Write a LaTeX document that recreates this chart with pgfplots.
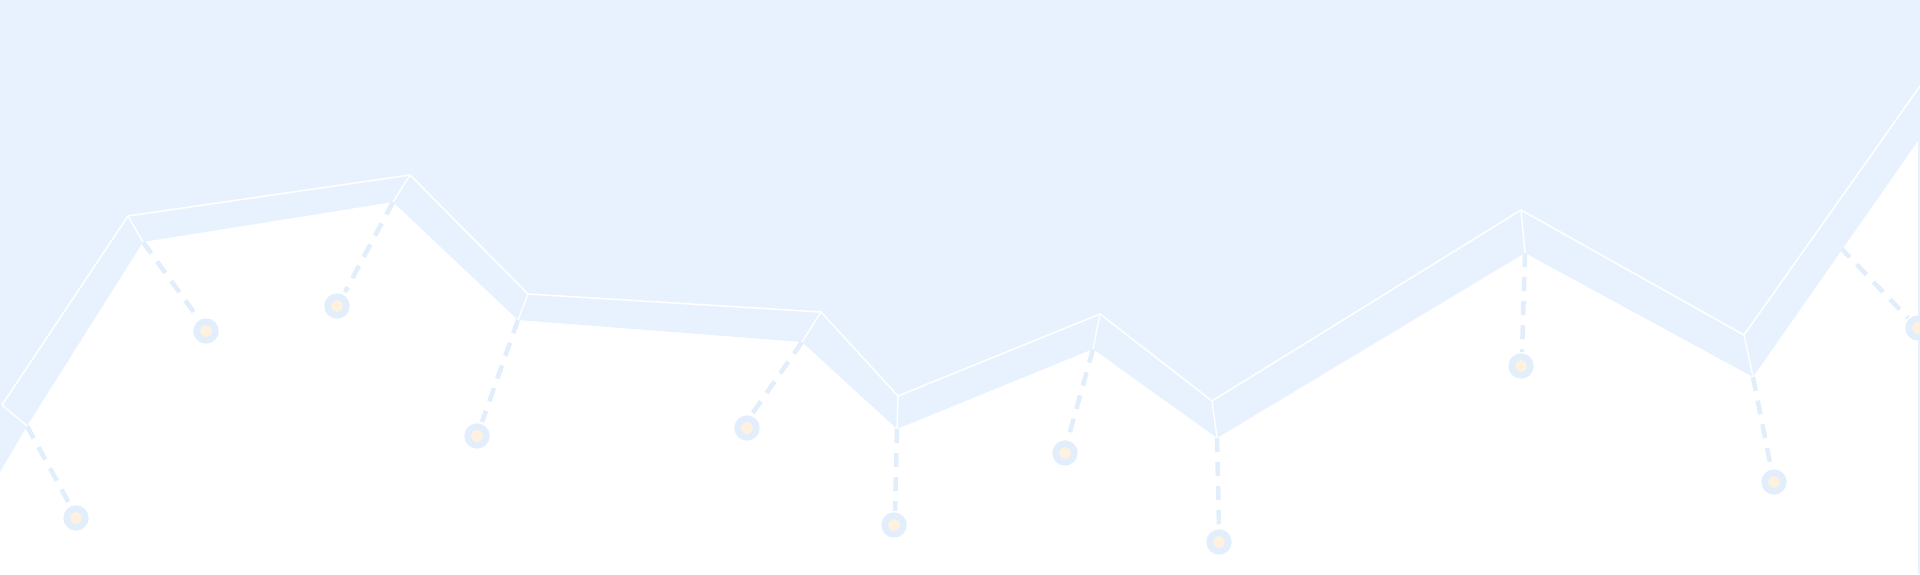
\documentclass[border=0pt]{standalone}
\usepackage{pgfplots}
\pgfplotsset{compat=1.18}
\definecolor{areablue}{HTML}{E8F2FE}
\definecolor{ringblue}{HTML}{E3EEFC}
\definecolor{dotorange}{HTML}{FFF1E0}
\begin{document}
\begin{tikzpicture}
\begin{axis}[
	width=19.2cm, height=5.74cm,
	scale only axis,
	hide axis,
	xmin=0, xmax=1920,
	ymin=0, ymax=574,
	y dir=reverse,
	clip=false,
	unbounded coords=jump,
]
% dashed drop lines (under the area)
\addplot[ringblue, line width=1.3pt, dash pattern=on 4pt off 2.85pt] coordinates {
	(27,426) (70,505) (nan,nan)
	(143,242) (198,318) (nan,nan)
	(393,202) (345,292) (nan,nan)
	(518,320) (482,422) (nan,nan)
	(802,342) (752,414) (nan,nan)
	(897,429) (895,511) (nan,nan)
	(1093,349) (1068,439) (nan,nan)
	(1217,438) (1219,528) (nan,nan)
	(1525,253) (1522,352) (nan,nan)
	(1753,377) (1771,468) (nan,nan)
	(1790,195) (1908,318)
};
% area
\addplot[fill=areablue, draw=none] coordinates {
	(0,0) (0,472) (27,426) (143,242) (393,202) (518,320) (802,342)
	(897,429) (1093,349) (1217,438) (1525,253) (1753,377) (1920,138)
	(1920,0)
} -- cycle;
% right edge
\addplot[areablue, line width=0.4pt] coordinates {(1918.8,138) (1918.8,574)};
% white ridge line
\addplot[white, line width=0.45pt] coordinates {
	(2,405) (128,216) (410,175) (528,294) (821,312) (898,396)
	(1100,314) (1212,401) (1521,210) (1744,335) (1920,86)
};
% white connectors
\addplot[white, line width=0.4pt] coordinates {
	(2,405) (27,426) (nan,nan)
	(128,216) (143,242) (nan,nan)
	(410,175) (393,202) (nan,nan)
	(528,294) (518,320) (nan,nan)
	(821,312) (802,342) (nan,nan)
	(898,396) (897,429) (nan,nan)
	(1100,314) (1093,349) (nan,nan)
	(1212,401) (1217,438) (nan,nan)
	(1521,210) (1525,253) (nan,nan)
	(1744,335) (1753,377)
};
% circles
\addplot[ringblue, only marks, mark=*, mark size=3.4pt, mark options={draw=ringblue, fill=ringblue}] coordinates {
	(76,518) (206,331) (337,306) (477,436) (747,428) (894,525)
	(1065,453) (1219,542) (1521,366) (1774,482) (1918,328)
};
\addplot[dotorange, only marks, mark=*, mark size=1.5pt, mark options={draw=dotorange, fill=dotorange}] coordinates {
	(76,518) (206,331) (337,306) (477,436) (747,428) (894,525)
	(1065,453) (1219,542) (1521,366) (1774,482) (1918,328)
};
\end{axis}
\pgfresetboundingbox
\path[use as bounding box] (0,0) rectangle (19.2cm,5.74cm);
\end{tikzpicture}
\end{document}
